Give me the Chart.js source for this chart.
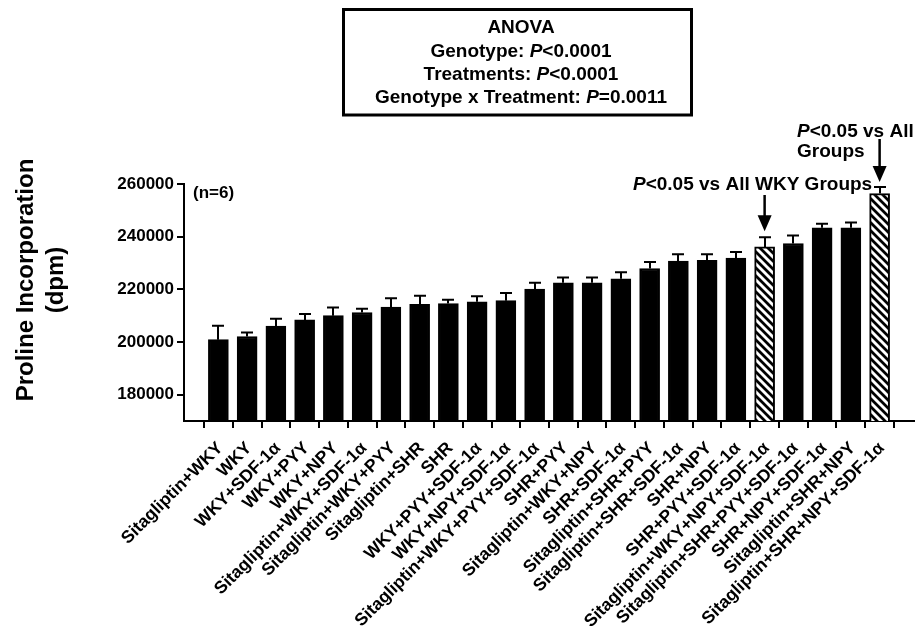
<!DOCTYPE html>
<html>
<head>
<meta charset="utf-8">
<script src="https://cdn.jsdelivr.net/npm/chart.js@4/dist/chart.umd.min.js"></script>
<style>
  html, body { margin: 0; padding: 0; background: #fff; }
  #wrap { width: 915px; height: 630px; position: relative; }
</style>
</head>
<body>
<div id="wrap"><canvas id="c" width="915" height="630"></canvas></div>
<script>
// Groups, in plotting order
const groups = [
  "Sitagliptin+WKY", "WKY", "WKY+SDF-1\u03b1", "WKY+PYY", "WKY+NPY",
  "Sitagliptin+WKY+SDF-1\u03b1", "Sitagliptin+WKY+PYY", "Sitagliptin+SHR", "SHR",
  "WKY+PYY+SDF-1\u03b1", "WKY+NPY+SDF-1\u03b1", "Sitagliptin+WKY+PYY+SDF-1\u03b1",
  "SHR+PYY", "Sitagliptin+WKY+NPY", "SHR+SDF-1\u03b1", "Sitagliptin+SHR+PYY",
  "Sitagliptin+SHR+SDF-1\u03b1", "SHR+NPY", "SHR+PYY+SDF-1\u03b1",
  "Sitagliptin+WKY+NPY+SDF-1\u03b1", "Sitagliptin+SHR+PYY+SDF-1\u03b1",
  "SHR+NPY+SDF-1\u03b1", "Sitagliptin+SHR+NPY", "Sitagliptin+SHR+NPY+SDF-1\u03b1"
];

// Mean proline incorporation (dpm)
const meanDpm = [
  200900, 202100, 206000, 208400, 210000, 211200, 213300, 214300, 214600, 215300,
  215700, 220100, 222500, 222500, 224000, 227900, 230700, 231000, 231900, 236100,
  237400, 243400, 243400, 256400
];

// SEM (dpm), drawn as upper whiskers
const semDpm = [
  5300, 1500, 2800, 2200, 3100, 1400, 3300, 3300, 1400, 2100,
  2900, 2400, 2000, 2000, 2500, 2500, 2600, 2300, 2300, 3700,
  3000, 1500, 2000, 2500
];

// Groups flagged as significant (hatched bars)
const significant = [
  false, false, false, false, false, false, false, false, false, false,
  false, false, false, false, false, false, false, false, false, true,
  false, false, false, true
];

const yTicks = [180000, 200000, 220000, 240000, 260000];
const yMin = 170000;
const yMax = 260000;

const anovaLines = [
  [["ANOVA", false]],
  [["Genotype: ", false], ["P", true], ["<0.0001", false]],
  [["Treatments: ", false], ["P", true], ["<0.0001", false]],
  [["Genotype x Treatment: ", false], ["P", true], ["=0.0011", false]]
];
const noteWky = [["P", true], ["<0.05 vs All WKY Groups", false]];
const noteAll1 = [["P", true], ["<0.05 vs All", false]];
const noteAll2 = [["Groups", false]];

const FAMILY = '"Liberation Sans", Arial, Helvetica, sans-serif';

// diagonal hatch fill
function makeHatch() {
  const s = 8;
  const pc = document.createElement('canvas');
  pc.width = s; pc.height = s;
  const p = pc.getContext('2d');
  p.fillStyle = '#fff';
  p.fillRect(0, 0, s, s);
  p.strokeStyle = '#000';
  p.lineWidth = 2.8;
  p.beginPath();
  p.moveTo(0, 0); p.lineTo(s, s);
  p.moveTo(-2, s - 2); p.lineTo(2, s + 2);
  p.moveTo(s - 2, -2); p.lineTo(s + 2, 2);
  p.stroke();
  return p.createPattern(pc, 'repeat');
}
const ctx0 = document.getElementById('c').getContext('2d');
const hatch = makeHatch();

function richWidth(ctx, parts, size) {
  let w = 0;
  for (const [t, it] of parts) {
    ctx.font = (it ? 'italic ' : '') + 'bold ' + size + 'px ' + FAMILY;
    w += ctx.measureText(t).width;
  }
  return w;
}
function drawRich(ctx, parts, x, y, size, align) {
  const w = richWidth(ctx, parts, size);
  let cx = align === 'center' ? x - w / 2 : (align === 'right' ? x - w : x);
  ctx.textAlign = 'left';
  ctx.textBaseline = 'alphabetic';
  for (const [t, it] of parts) {
    ctx.font = (it ? 'italic ' : '') + 'bold ' + size + 'px ' + FAMILY;
    ctx.fillText(t, cx, y);
    cx += ctx.measureText(t).width;
  }
}
function arrowDown(ctx, x, y0, y1) {
  const headH = 16, headW = 7;
  ctx.strokeStyle = '#000';
  ctx.fillStyle = '#000';
  ctx.lineWidth = 2.5;
  ctx.beginPath();
  ctx.moveTo(x, y0);
  ctx.lineTo(x, y1 - headH + 2);
  ctx.stroke();
  ctx.beginPath();
  ctx.moveTo(x - headW, y1 - headH);
  ctx.lineTo(x + headW, y1 - headH);
  ctx.lineTo(x, y1);
  ctx.closePath();
  ctx.fill();
}

const decorations = {
  id: 'decorations',
  afterDatasetsDraw(chart) {
    const { ctx, scales: { x, y } } = chart;
    ctx.save();
    // SEM whiskers
    ctx.strokeStyle = '#000';
    ctx.lineWidth = 2;
    meanDpm.forEach((m, i) => {
      const px = Math.round(x.getPixelForValue(i));
      const yTop = y.getPixelForValue(m + semDpm[i]);
      const yBar = y.getPixelForValue(m);
      ctx.beginPath();
      ctx.moveTo(px, yBar);
      ctx.lineTo(px, yTop);
      ctx.moveTo(px - 6, yTop);
      ctx.lineTo(px + 6, yTop);
      ctx.stroke();
    });
    ctx.restore();
  },
  afterDraw(chart) {
    const { ctx, scales: { x, y }, chartArea } = chart;
    ctx.save();
    ctx.fillStyle = '#000';

    // y-axis title
    ctx.font = 'bold 24px ' + FAMILY;
    ctx.textAlign = 'center';
    ctx.textBaseline = 'alphabetic';
    const cy = 280;
    ctx.save(); ctx.translate(33, cy); ctx.rotate(-Math.PI / 2);
    ctx.fillText('Proline Incorporation', 0, 0); ctx.restore();
    ctx.save(); ctx.translate(63, cy); ctx.rotate(-Math.PI / 2);
    ctx.fillText('(dpm)', 0, 0); ctx.restore();

    // ANOVA box
    ctx.strokeStyle = '#000';
    ctx.lineWidth = 3;
    ctx.strokeRect(343.5, 9.5, 348, 105.5);
    const base = [33, 56.5, 80, 103];
    anovaLines.forEach((parts, k) => drawRich(ctx, parts, 521, base[k], 19, 'center'));

    // sample size
    ctx.font = 'bold 17px ' + FAMILY;
    ctx.textAlign = 'left';
    ctx.textBaseline = 'alphabetic';
    ctx.fillText('(n=6)', chartArea.left + 9, chartArea.top + 14);

    // significance notes
    const iWky = significant.indexOf(true);
    const iAll = significant.lastIndexOf(true);
    drawRich(ctx, noteWky, 633, 190, 19, 'left');
    drawRich(ctx, noteAll1, 797, 137, 19, 'left');
    drawRich(ctx, noteAll2, 797, 157, 19, 'left');
    const xa = x.getPixelForValue(iWky);
    arrowDown(ctx, xa, 195, y.getPixelForValue(meanDpm[iWky] + semDpm[iWky]) - 6);
    const xb = x.getPixelForValue(iAll);
    arrowDown(ctx, xb, 139, y.getPixelForValue(meanDpm[iAll] + semDpm[iAll]) - 5);
    ctx.restore();
  }
};

new Chart(ctx0, {
  type: 'bar',
  data: {
    datasets: [{
      data: meanDpm.map((v, i) => ({ x: i, y: v })),
      backgroundColor: (c) => significant[c.dataIndex] ? hatch : '#000',
      borderColor: '#000',
      borderWidth: 2,
      borderSkipped: 'bottom',
      barThickness: 20
    }]
  },
  options: {
    responsive: false,
    animation: false,
    layout: { padding: { top: 184, right: 1, left: 0, bottom: 0 } },
    plugins: { legend: { display: false }, tooltip: { enabled: false } },
    scales: {
      x: {
        type: 'linear',
        min: -0.667,
        max: 23.667,
        afterBuildTicks: (s) => { s.ticks = groups.map((_, i) => ({ value: i })); },
        afterFit: (s) => { s.height = 209; },
        grid: { display: true, drawOnChartArea: false, drawTicks: true, tickLength: 7, color: '#000', lineWidth: 2 },
        border: { display: true, color: '#000', width: 2 },
        ticks: {
          autoSkip: false,
          minRotation: 45,
          maxRotation: 45,
          padding: 10,
          labelOffset: 2,
          color: '#000',
          font: { family: FAMILY, size: 17.5, weight: 'bold' },
          callback: (v) => groups[v] ?? ''
        }
      },
      y: {
        min: yMin,
        max: yMax,
        afterBuildTicks: (s) => { s.ticks = yTicks.map(v => ({ value: v })); },
        afterFit: (s) => { s.width = 184; },
        grid: { display: true, drawOnChartArea: false, drawTicks: true, tickLength: 7, color: '#000', lineWidth: 2 },
        border: { display: true, color: '#000', width: 2 },
        ticks: {
          padding: 3,
          color: '#000',
          font: { family: FAMILY, size: 17, weight: 'bold' },
          callback: (v) => String(v)
        }
      }
    }
  },
  plugins: [decorations]
});
</script>
</body>
</html>
